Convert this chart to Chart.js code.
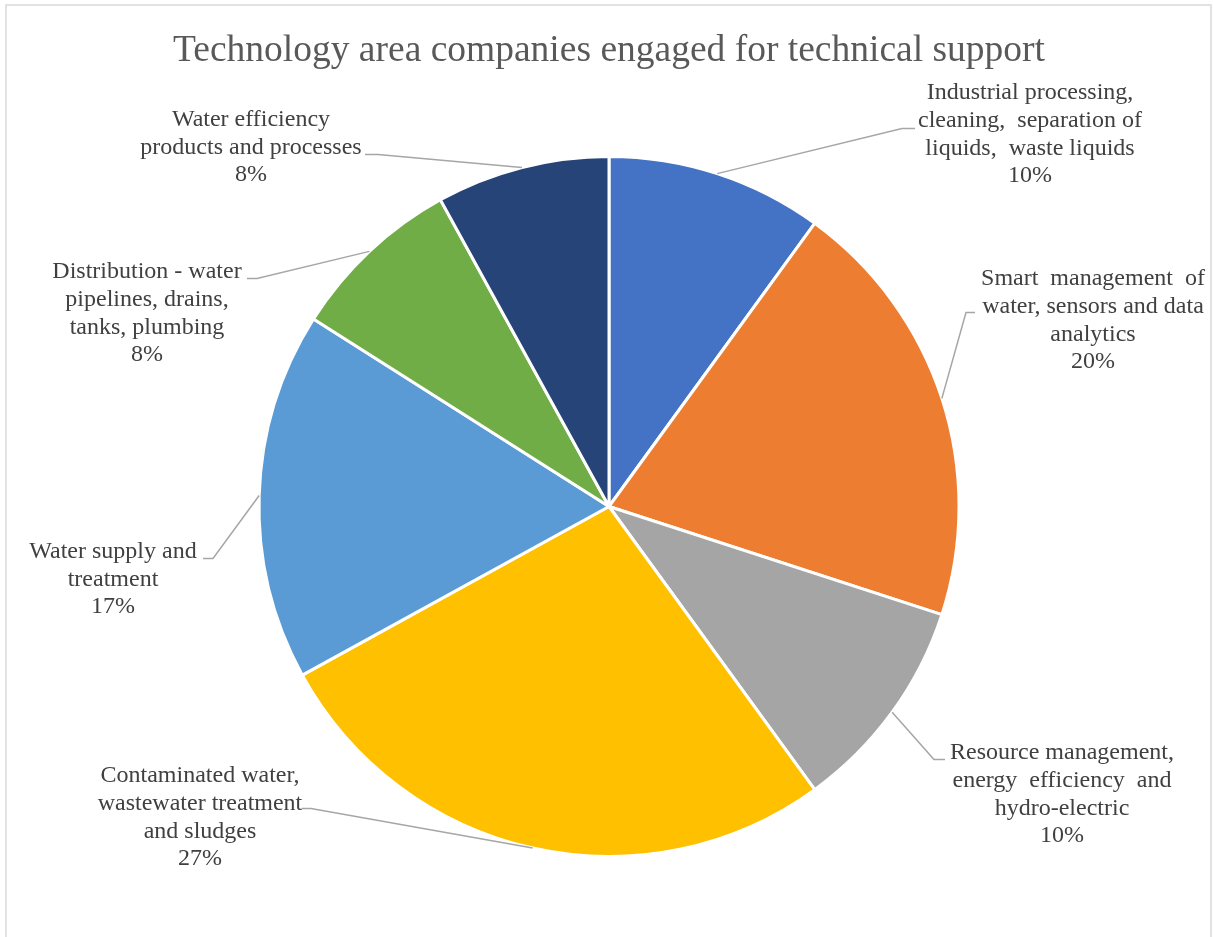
<!DOCTYPE html>
<html>
<head>
<meta charset="utf-8">
<script src="https://cdn.jsdelivr.net/npm/chart.js@4"></script>
<style>
  html, body { margin: 0; padding: 0; background: #fff; }
  #wrap { width: 1213px; height: 937px; }
</style>
</head>
<body>
<div id="wrap"><canvas id="TechPie" width="1213" height="937"></canvas></div>
<script>
const categories = [
    ['Industrial processing,', 'cleaning,  separation of', 'liquids,  waste liquids'],
    ['Smart  management  of', 'water, sensors and data', 'analytics'],
    ['Resource management,', 'energy  efficiency  and', 'hydro-electric'],
    ['Contaminated water,', 'wastewater treatment', 'and sludges'],
    ['Water supply and', 'treatment'],
    ['Distribution - water', 'pipelines, drains,', 'tanks, plumbing'],
    ['Water efficiency', 'products and processes']
];
const shares = [10, 20, 10, 27, 17, 8, 8];
const sliceColors = ['#4472C4', '#ED7D31', '#A5A5A5', '#FFC000', '#5B9BD5', '#70AD47', '#264478'];

// where each label sits, in px from the pie centre:
// dx/dy = middle of the text block, ax/ay = where the leader meets the text,
// elbow = short horizontal run of the leader next to the text
const labelLayout = [
    {dx: 421, dy: -372, ax: 306, ay: -378, elbow: -13},
    {dx: 484, dy: -186, ax: 366, ay: -194, elbow: -9},
    {dx: 453, dy: 288, ax: 336, ay: 253, elbow: -11},
    {dx: -409, dy: 311, ax: -307, ay: 302, elbow: 9},
    {dx: -496, dy: 73, ax: -406, ay: 52, elbow: 10},
    {dx: -462, dy: -193, ax: -362, ay: -228, elbow: 10},
    {dx: -358, dy: -359, ax: -244, ay: -352, elbow: 13}
];

const SERIF = '"Liberation Serif", "Times New Roman", serif';
const LABEL_FONT = '24px ' + SERIF;
const LINE_HEIGHT = 27.7;

const outsideLabels = {
    id: 'outsideLabels',
    beforeDraw(chart) {
        const ctx = chart.ctx;
        ctx.save();
        ctx.fillStyle = '#ffffff';
        ctx.fillRect(0, 0, chart.width, chart.height);
        // light frame round the chart, open at the bottom edge
        ctx.strokeStyle = '#d9d9d9';
        ctx.lineWidth = 1.5;
        ctx.strokeRect(6, 5, 1205, chart.height + 20);
        ctx.restore();
    },
    afterDatasetsDraw(chart) {
        const ctx = chart.ctx;
        const arcs = chart.getDatasetMeta(0).data;
        ctx.save();
        ctx.font = LABEL_FONT;
        ctx.textAlign = 'center';
        ctx.textBaseline = 'middle';
        arcs.forEach((arc, i) => {
            const lay = labelLayout[i];
            const mid = (arc.startAngle + arc.endAngle) / 2;
            const ex = arc.x + Math.cos(mid) * arc.outerRadius;
            const ey = arc.y + Math.sin(mid) * arc.outerRadius;
            const ax = arc.x + lay.ax;
            const ay = arc.y + lay.ay;

            ctx.strokeStyle = '#a6a6a6';
            ctx.lineWidth = 1.5;
            ctx.beginPath();
            ctx.moveTo(ex, ey);
            ctx.lineTo(ax + lay.elbow, ay);
            ctx.lineTo(ax, ay);
            ctx.stroke();

            const lines = categories[i].concat(shares[i] + '%');
            const top = arc.y + lay.dy - (lines.length - 1) * LINE_HEIGHT / 2;
            ctx.fillStyle = '#404040';
            lines.forEach((txt, k) => ctx.fillText(txt, arc.x + lay.dx, top + k * LINE_HEIGHT));
        });
        ctx.restore();
    }
};

const pie_canvas = document.getElementById('TechPie');

const pie_chart = new Chart(
    pie_canvas,
    {
        type: 'pie',
        data: {
            labels: categories,
            datasets: [
                {
                    data: shares,
                    backgroundColor: sliceColors,
                    borderColor: '#ffffff',
                    borderWidth: 3,
                }
            ]
        },
        options: {
            responsive: false,
            animation: false,
            layout: {
                // chart area is wider than tall, so the pie centres on x = 609
                padding: {left: 5, right: 0, top: 0, bottom: 79}
            },
            plugins: {
                legend: {display: false},
                tooltip: {enabled: false},
                title: {
                    display: true,
                    text: 'Technology area companies engaged for technical support',
                    color: '#595959',
                    font: {family: SERIF, size: 37.5, weight: 'normal', lineHeight: 1.2},
                    padding: {top: 29, bottom: 81}
                }
            }
        },
        plugins: [outsideLabels]
    }
);
</script>
</body>
</html>
